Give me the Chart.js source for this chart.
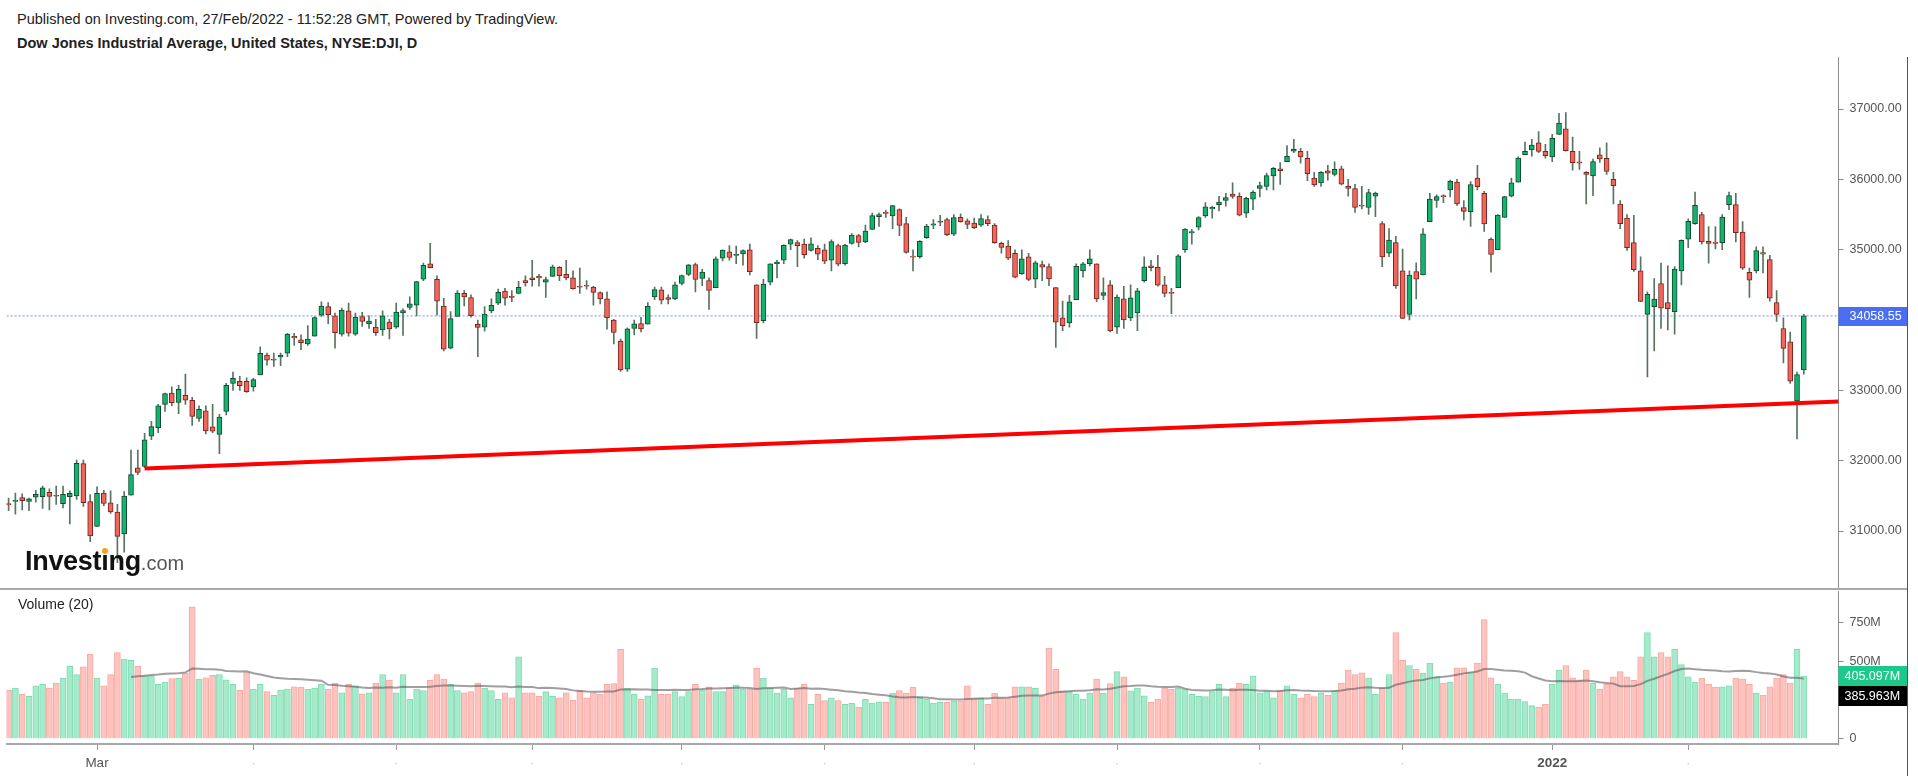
<!DOCTYPE html>
<html>
<head>
<meta charset="utf-8">
<script src="https://cdn.jsdelivr.net/npm/chart.js@4.4.1/dist/chart.umd.min.js"></script>
<style>
  body { margin: 0; background: #fff; font-family: "Liberation Sans", Arial, sans-serif; }
  #wrap { position: relative; width: 1918px; height: 776px; overflow: hidden; background: #fff; }
  canvas { position: absolute; left: 0; }
  .hdr { position: absolute; left: 17px; font-size: 14.5px; line-height: 17px; color: #222; white-space: nowrap; }
  .logo { position: absolute; left: 25px; top: 546px; white-space: nowrap; line-height: 30px; }
  .logo .inv { font-size: 27px; font-weight: bold; color: #111; letter-spacing: -0.3px; }
  .logo .dom { font-size: 20px; color: #555; }
  .logo .dot { position: relative; }
  .logo .dot::after { content: ""; position: absolute; left: 1px; top: 2px; width: 6px; height: 6px; border-radius: 3px; background: #f7a11a; }
  .vol-title { position: absolute; left: 18px; top: 596px; font-size: 14px; color: #222; }
  .line { position: absolute; z-index: 5; }
</style>
</head>
<body>
<div id="wrap">
  <div class="hdr" style="top:11px">Published on Investing.com, 27/Feb/2022 - 11:52:28 GMT, Powered by TradingView.</div>
  <div class="hdr" style="top:35px;font-weight:bold">Dow Jones Industrial Average, United States, NYSE:DJI, D</div>
  <canvas id="price" width="1918" height="531" style="top:57px"></canvas>
  <canvas id="volume" width="1918" height="187" style="top:589px"></canvas>
  <div class="logo"><span class="inv">Invest<span class="dot">i</span>ng</span><span class="dom">.com</span></div>
  <div class="vol-title">Volume (20)</div>
  <div class="line" style="left:0;top:588px;width:1907px;height:2px;background:#a9a9a9"></div>
  <div class="line" style="left:1907px;top:57px;width:1px;height:719px;background:#555"></div>
</div>
<script>
// daily candles, 9 Feb 2021 .. 25 Feb 2022 (index = trading day)
const open = [
  31380,31420,31475,31420,31480,31490,31550,31500,31390,31490,
  31500,31960,31420,31065,31540,31400,31270,30960,31510,31900,
  31920,32350,32470,32800,32960,32830,32930,32860,32600,32710,
  32480,32375,32700,33100,33130,33130,33050,33220,33500,33430,
  33475,33530,33770,33720,33660,33770,34070,34190,34060,33800,
  34130,33800,34050,33950,33900,33860,33970,33900,34100,34180,
  34210,34580,34800,34580,34200,33600,34050,34380,34320,33940,
  33900,34130,34240,34410,34340,34380,34560,34600,34620,34540,
  34620,34750,34650,34600,34480,34490,34470,34390,34300,34000,
  33700,33300,33880,33950,33940,34330,34430,34320,34300,34520,
  34650,34790,34590,34560,34460,34880,34970,34920,34940,35000,
  34500,33990,34540,34800,34850,35080,35100,35080,34990,35020,
  35000,34850,35060,34800,35090,35200,35110,35290,35470,35530,
  35480,35570,35370,34900,34900,35170,35350,35390,35430,35220,
  35460,35410,35380,35350,35430,35350,35090,35050,34950,34660,
  34900,34580,34790,34760,34460,34030,33960,34290,34700,34800,
  34800,34350,34500,33900,34300,34030,34100,34560,34770,34750,
  34500,34390,34460,35000,35240,35320,35480,35580,35640,35700,
  35790,35760,35520,35720,35870,35900,36050,36150,36250,36400,
  36400,36300,36020,35950,36120,36070,36150,35900,35870,35630,
  35600,35760,35370,34950,35100,34700,34080,34690,34640,35400,
  35700,35760,35850,35960,35600,35540,36020,35800,35150,35000,
  35460,35760,35960,36350,36420,36520,36400,36320,36640,36720,
  36400,36250,36100,36050,36350,36300,36000,35650,35450,35100,
  34700,34080,34190,34520,34250,34120,34700,35150,35370,35500,
  35120,35110,35100,35640,35640,35250,34680,34700,34960,34860,
  34250,33880,33690,32850,33290
];
const high = [
  31470,31540,31530,31470,31580,31640,31600,31640,31640,31570,
  32010,32010,31520,31630,31580,31570,31380,31560,32150,32150,
  32390,32560,32800,32960,33050,33070,33230,32900,32780,32780,
  32800,32660,33100,33260,33200,33180,33170,33620,33530,33530,
  33530,33810,33810,33790,33920,34050,34260,34250,34100,34170,
  34240,34100,34110,34060,34010,34130,34010,34240,34160,34330,
  34550,34810,35090,34630,34310,34120,34420,34420,34360,34000,
  34190,34300,34440,34450,34420,34550,34630,34850,34650,34610,
  34780,34760,34850,34700,34740,34560,34480,34400,34400,34010,
  33730,33890,34000,34040,34250,34470,34470,34360,34540,34640,
  34790,34810,34720,34600,34900,35000,35060,35050,35000,35080,
  34500,34580,34800,34850,35070,35150,35130,35150,35170,35060,
  35080,35140,35080,35080,35230,35220,35350,35520,35520,35560,
  35630,35580,35460,35000,35130,35360,35430,35490,35450,35500,
  35510,35440,35450,35500,35480,35370,35110,35130,35000,35000,
  34950,34840,34840,34800,34460,34270,34350,34800,34820,35000,
  34800,34600,34560,34360,34480,34500,34450,34900,34850,34920,
  34620,34450,34930,35300,35290,35470,35670,35620,35760,35800,
  35950,35810,35750,35840,35960,36090,36170,36240,36480,36570,
  36440,36400,36100,36110,36200,36250,36190,36000,35930,35900,
  35860,35820,35400,35300,35190,35010,34700,34815,35300,35800,
  35780,35780,35990,36000,35700,35970,36200,35830,35170,35500,
  35760,36020,36320,36530,36570,36680,36500,36640,36940,36950,
  36600,36400,36110,36290,36450,36520,36100,35700,35500,35490,
  34900,34400,34590,34810,34770,34760,35140,35440,35820,35530,
  35330,35330,35500,35820,35800,35400,34740,35040,35040,34920,
  34420,34030,33830,33260,34080
];
const low = [
  31290,31240,31300,31290,31410,31320,31300,31380,31330,31100,
  31450,31350,30850,31065,31360,31250,30550,30700,31510,31800,
  31900,32300,32400,32700,32780,32670,32800,32500,32560,32380,
  32400,32100,32650,33000,33000,32970,32990,33220,33360,33340,
  33350,33480,33640,33580,33640,33770,34050,33950,33600,33770,
  33770,33780,33910,33880,33780,33780,33730,33880,33780,34150,
  34060,34560,34740,34070,33560,33590,34050,34200,34040,33480,
  33840,34100,34220,34210,34260,34370,34480,34480,34480,34320,
  34620,34560,34570,34440,34380,34440,34210,34230,33870,33660,
  33270,33270,33790,33830,33940,34290,34230,34230,34290,34500,
  34630,34400,34490,34150,34460,34840,34850,34800,34780,34640,
  33740,33960,34500,34600,34800,35000,34760,34880,34980,34860,
  34800,34700,34770,34780,35080,35040,35100,35290,35330,35460,
  35300,35200,34950,34700,34880,35160,35300,35340,35200,35200,
  35390,35300,35300,35330,35340,35090,34950,34860,34600,34650,
  34560,34460,34560,34490,33610,33850,33900,34290,34610,34770,
  34260,34290,33830,33810,33880,33990,33850,34540,34700,34480,
  34330,34090,34460,34960,35080,35280,35460,35450,35550,35620,
  35730,35480,35460,35570,35750,35850,35850,35930,36250,36380,
  36230,35980,35900,35900,35990,36050,35920,35760,35530,35580,
  35500,35470,34760,34900,34450,34020,34000,34300,34640,35400,
  35600,35670,35750,35630,35420,35330,35850,35260,34680,35000,
  35460,35750,35960,36350,36330,36380,36300,36250,36640,36400,
  36130,36140,35650,35770,36240,36070,35650,35300,34990,34690,
  34260,33190,33560,33880,33860,33800,34500,35030,35360,35080,
  34810,35010,35000,35570,35110,34720,34320,34670,34670,34270,
  33980,33390,33100,32310,33230
];
const close = [
  31375,31438,31430,31458,31523,31613,31493,31494,31522,31537,
  31962,31402,30932,31535,31391,31270,30924,31496,31802,31833,
  32297,32485,32779,32953,32826,33015,32862,32628,32732,32423,
  32420,32619,33073,33171,33067,32982,33153,33527,33430,33446,
  33503,33801,33746,33677,33730,34036,34200,34078,33822,34137,
  33815,34043,33981,33985,33820,34060,33875,34113,34133,34230,
  34548,34778,34743,34270,33587,34021,34382,34327,34061,33896,
  34084,34208,34394,34312,34323,34465,34529,34575,34600,34577,
  34756,34630,34599,34447,34466,34480,34393,34299,34033,33823,
  33290,33876,33945,33874,34196,34433,34283,34292,34502,34633,
  34786,34577,34681,34421,34870,34996,34889,34933,34987,34687,
  33962,34512,34798,34823,35061,35144,35058,34930,35085,34935,
  34838,35117,34793,35065,35209,35102,35265,35485,35500,35516,
  35626,35344,34961,34894,35120,35336,35367,35406,35214,35456,
  35400,35361,35313,35444,35369,35100,35031,34879,34608,34870,
  34578,34815,34751,34585,33970,33919,34258,34765,34798,34870,
  34300,34390,33844,34326,34002,34315,34417,34755,34746,34496,
  34378,34378,34912,35295,35259,35458,35609,35603,35677,35741,
  35757,35491,35731,35820,35913,36053,36158,36124,36328,36432,
  36320,36080,35921,36100,36087,36142,35931,35871,35602,35619,
  35814,35805,34899,35136,34484,34022,34640,34580,35227,35719,
  35754,35755,35971,35650,35545,35927,35898,35365,34932,35493,
  35754,35951,36303,36398,36489,36398,36338,36585,36800,36408,
  36236,36232,36069,36252,36290,36114,35912,35369,35029,34715,
  34265,34365,34298,34168,34161,34725,35132,35405,35630,35111,
  35089,35091,35463,35768,35242,34738,34566,34989,34935,34312,
  34079,33597,33132,33224,34058.55
];
// volume in millions
const volume = [
  315,327,287,274,342,351,327,360,392,467,
  415,464,546,392,342,415,556,514,507,467,
  407,407,351,364,389,392,424,852,385,394,
  409,415,381,351,315,428,321,351,304,280,
  315,321,336,334,321,327,351,321,360,297,
  351,342,289,297,360,415,379,297,415,255,
  321,312,377,415,385,351,312,297,304,360,
  327,312,255,297,265,529,297,297,274,304,
  274,265,297,248,312,265,297,287,351,357,
  578,325,287,257,278,456,287,287,304,272,
  304,351,315,336,304,304,330,349,321,321,
  456,392,327,295,321,265,327,351,223,287,
  246,265,246,223,229,205,255,231,235,235,
  295,312,295,334,272,255,231,235,235,244,
  244,342,265,265,223,295,265,265,336,336,
  336,325,278,586,449,310,304,287,257,295,
  385,295,357,434,400,310,327,278,235,257,
  327,321,327,321,287,274,272,304,351,272,
  327,360,351,407,297,304,265,312,342,287,
  265,287,272,293,280,312,360,443,415,426,
  392,287,327,415,685,507,473,449,424,488,
  400,360,366,458,458,428,488,770,394,351,
  295,257,257,240,214,205,223,351,443,473,
  394,381,443,360,321,351,400,434,400,377,
  529,685,529,556,529,578,479,400,366,392,
  351,334,336,342,392,385,351,295,280,336,
  392,415,360,578,405.097
];
const lastClose = 34058.55;
const volumeMAText = '385.963M';

// red support line, drawn by hand on the original
const trendX = [20, 269.1];
const trendY = [31890, 32840];

const priceTicks = [31000, 32000, 33000, 34000, 35000, 36000, 37000];
const volumeTicks = [0, 500, 750];
const monthTickIdx = [13, 36, 57, 77, 99, 120, 142, 163, 184, 205, 227, 247];
const monthTickText = ['Mar', '·', '·', '·', '·', '·', '·', '·', '·', '·', '2022', '·'];

const X_MIN = -0.294, X_MAX = 269.1;
const AXIS_W = 68.5;
const FONT = '"Liberation Sans", Arial, sans-serif';
Chart.defaults.font.family = FONT;

const up = close.map((c, i) => c >= open[i]);
const idx = close.map((c, i) => i);

// 20 bar average of the volume, as on the original panel
const volMA = volume.map((v, i) => {
  if (i < 18) return null;
  const win = volume.slice(Math.max(0, i - 19), i + 1);
  return win.reduce((a, b) => a + b, 0) / win.length;
});

function fixY(s) { s.width = AXIS_W; s.paddingTop = 0; s.paddingBottom = 0; }

const lastPriceLabel = {
  id: 'lastPriceLabel',
  afterDraw(chart) {
    const { ctx, chartArea } = chart;
    const y = chart.scales.y.getPixelForValue(lastClose);
    ctx.save();
    ctx.fillStyle = '#4a6ef2';
    ctx.fillRect(chartArea.right, Math.round(y) - 9, AXIS_W, 19);
    ctx.fillStyle = '#fff';
    ctx.font = '12.5px ' + FONT;
    ctx.textBaseline = 'middle';
    ctx.fillText(lastClose.toFixed(2), chartArea.right + 11, Math.round(y) + 1);
    ctx.restore();
  }
};

new Chart(document.getElementById('price'), {
  type: 'bar',
  data: {
    datasets: [
      {
        type: 'line',
        data: [{ x: X_MIN, y: lastClose }, { x: X_MAX, y: lastClose }],
        borderColor: '#6f8ff5',
        borderWidth: 1,
        borderDash: [2, 2],
        pointRadius: 0,
        order: 10
      },
      {
        data: idx.map(i => ({ x: i, y: [low[i], high[i]] })),
        backgroundColor: '#58735f',
        barThickness: 1,
        grouped: false,
        order: 3
      },
      {
        data: idx.map(i => ({ x: i, y: [open[i], close[i]] })),
        backgroundColor: up.map(u => u ? '#13b26f' : '#f0665a'),
        borderColor: up.map(u => u ? '#14492f' : '#7a2520'),
        borderWidth: 1,
        borderSkipped: false,
        barThickness: 5,
        minBarLength: 1,
        grouped: false,
        order: 2
      },
      {
        type: 'line',
        data: trendX.map((x, i) => ({ x: x, y: trendY[i] })),
        borderColor: '#ff0000',
        borderWidth: 4,
        pointRadius: 0,
        order: 1
      }
    ]
  },
  options: {
    responsive: false,
    animation: false,
    events: [],
    layout: { padding: { left: 6.6, right: 11, top: 0, bottom: 0 } },
    plugins: { legend: { display: false }, tooltip: { enabled: false } },
    scales: {
      x: {
        type: 'linear', min: X_MIN, max: X_MAX, offset: false, display: false,
        grid: { offset: false }
      },
      y: {
        position: 'right', min: 30190, max: 37740,
        afterFit: fixY,
        afterBuildTicks: s => { s.ticks = priceTicks.map(v => ({ value: v })); },
        ticks: { callback: v => v.toFixed(2), color: '#555', font: { size: 12.5 }, padding: 6 },
        grid: { drawOnChartArea: false, tickLength: 5, color: '#8c8c8c' },
        border: { color: '#8c8c8c', width: 1 }
      }
    }
  },
  plugins: [lastPriceLabel]
});

const volumeLabels = {
  id: 'volumeLabels',
  afterDraw(chart) {
    const { ctx, chartArea } = chart;
    const last = volume[volume.length - 1];
    const y = Math.round(chart.scales.y.getPixelForValue(last));
    ctx.save();
    ctx.font = '12.5px ' + FONT;
    ctx.textBaseline = 'middle';
    ctx.fillStyle = '#1dc98a';
    ctx.fillRect(chartArea.right, y - 10, AXIS_W, 20);
    ctx.fillStyle = '#000';
    ctx.fillRect(chartArea.right, y + 10, AXIS_W, 20);
    ctx.fillStyle = '#fff';
    ctx.fillText(last.toFixed(3) + 'M', chartArea.right + 6, y + 1);
    ctx.fillText(volumeMAText, chartArea.right + 6, y + 21);
    ctx.restore();
  }
};

new Chart(document.getElementById('volume'), {
  type: 'bar',
  data: {
    datasets: [
      {
        type: 'line',
        data: idx.map(i => ({ x: i, y: volMA[i] })),
        borderColor: 'rgba(95,95,95,0.6)',
        borderWidth: 2,
        pointRadius: 0,
        spanGaps: false,
        order: 1
      },
      {
        data: idx.map(i => ({ x: i, y: volume[i] })),
        backgroundColor: up.map(u => u ? '#a6e9cb' : '#fdc4bf'),
        borderColor: up.map(u => u ? '#80ddb3' : '#f9a9a3'),
        borderWidth: 1,
        borderSkipped: 'start',
        barThickness: 6,
        grouped: false,
        order: 2
      }
    ]
  },
  options: {
    responsive: false,
    animation: false,
    events: [],
    layout: { padding: { left: 6.6, right: 11, top: 2, bottom: 0 } },
    plugins: { legend: { display: false }, tooltip: { enabled: false } },
    scales: {
      x: {
        type: 'linear', min: X_MIN, max: X_MAX, offset: false,
        afterFit: s => { s.height = 32; s.paddingLeft = 0; s.paddingRight = 0; },
        afterBuildTicks: s => { s.ticks = monthTickIdx.map(v => ({ value: v })); },
        ticks: {
          autoSkip: false, maxRotation: 0, padding: 5,
          callback: (v, i) => monthTickText[i],
          color: c => (c.tick && c.tick.label === '·') ? '#c8c8c8' : '#555',
          font: c => ({ size: 13.5, weight: (c.tick && c.tick.label === '2022') ? 'bold' : 'normal' })
        },
        grid: { drawOnChartArea: false, tickLength: 6, color: '#999', offset: false },
        border: { color: '#a8a8a8', width: 2 }
      },
      y: {
        position: 'right', min: -33.6, max: 954,
        afterFit: fixY,
        afterBuildTicks: s => { s.ticks = volumeTicks.map(v => ({ value: v })); },
        ticks: { callback: v => v === 0 ? '0' : v + 'M', color: '#555', font: { size: 12.5 }, padding: 6 },
        grid: { drawOnChartArea: false, tickLength: 5, color: '#8c8c8c' },
        border: { color: '#8c8c8c', width: 1 }
      }
    }
  },
  plugins: [volumeLabels]
});
</script>
</body>
</html>
